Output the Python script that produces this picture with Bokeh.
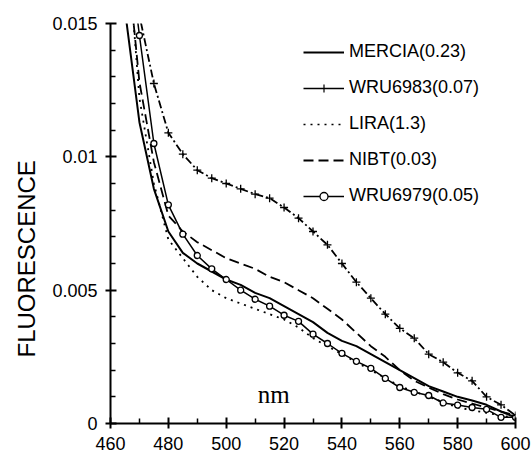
from bokeh.plotting import figure
from bokeh.models import (FixedTicker, Legend, LegendItem, Label, Range1d, Title,
                          ColumnDataSource, CDSView, IndexFilter)
from bokeh.embed import file_html
from bokeh.resources import INLINE

# ---------------- data ----------------
wavelength = [465, 470, 475, 480, 485, 490, 495, 500, 505, 510,
              515, 520, 525, 530, 535, 540, 545, 550, 555, 560,
              565, 570, 575, 580, 585, 590, 595, 600]

mercia = [0.0155, 0.0113, 0.0088, 0.0072, 0.0064, 0.0060, 0.0057, 0.0054, 0.0052, 0.0049,
          0.0047, 0.0044, 0.0041, 0.0038, 0.0034, 0.0031, 0.0029, 0.0026, 0.0023, 0.0020,
          0.0017, 0.0014, 0.0012, 0.0010, 0.00086, 0.0007, 0.00045, 0.00023]

wru6983 = [0.021, 0.0153, 0.01275, 0.0109, 0.0101, 0.0095, 0.0092, 0.0090, 0.0088, 0.0086,
           0.00845, 0.0081, 0.0077, 0.0072, 0.0067, 0.0060, 0.0053, 0.0047, 0.0041, 0.00357,
           0.0032, 0.0026, 0.0023, 0.0019, 0.0016, 0.0010, 0.0007, 0.0003]

lira = [0.0192, 0.0122, 0.0090, 0.0069, 0.0062, 0.0055, 0.0050, 0.0047, 0.0045, 0.0043,
        0.0041, 0.0039, 0.0036, 0.0032, 0.0029, 0.0026, 0.0023, 0.0020, 0.0017, 0.0014,
        0.0012, 0.0010, 0.0008, 0.0006, 0.0005, 0.0004, 0.0003, 0.0002]

nibt = [0.0183, 0.0128, 0.0098, 0.0078, 0.0072, 0.0068, 0.0065, 0.0062, 0.0060, 0.0058,
        0.0055, 0.0053, 0.0050, 0.0047, 0.0043, 0.0039, 0.0034, 0.0029, 0.0025, 0.0020,
        0.0016, 0.00135, 0.0011, 0.0009, 0.00075, 0.0006, 0.00045, 0.0003]

wru6979 = [0.019, 0.01455, 0.0105, 0.0082, 0.0071, 0.0063, 0.0058, 0.0054, 0.0050, 0.00466,
           0.0044, 0.00406, 0.00383, 0.00335, 0.0030, 0.00263, 0.00233, 0.00207, 0.00169, 0.00135,
           0.00117, 0.00105, 0.00077, 0.00069, 0.0006, 0.00053, 0.00023, 0.00023]

series_names = ["MERCIA(0.23)", "WRU6983(0.07)", "LIRA(1.3)", "NIBT(0.03)", "WRU6979(0.05)"]

x_ticks = [460, 480, 500, 520, 540, 560, 580, 600]
x_tick_labels = ["460", "480", "500", "520", "540", "560", "580", "600"]
x_minor = [470, 490, 510, 530, 550, 570, 590]
y_ticks = [0, 0.005, 0.01, 0.015]
y_tick_labels = ["0", "0.005", "0.01", "0.015"]
y_minor = [0.001, 0.002, 0.003, 0.004, 0.006, 0.007, 0.008, 0.009,
           0.011, 0.012, 0.013, 0.014]

y_label = "FLUORESCENCE"
unit_label = "nm"

FONT = "Liberation Sans"

# ---------------- figure ----------------
p = figure(width=532, height=458, output_backend="svg", toolbar_location=None,
           x_range=Range1d(460, 600), y_range=Range1d(0, 0.015),
           min_border_left=109, min_border_top=23, min_border_right=17,
           min_border_bottom=35)
p.outline_line_color = None
p.xgrid.visible = False
p.ygrid.visible = False
p.background_fill_color = "white"
p.border_fill_color = "white"

for ax, ticks, labels, minor in ((p.xaxis[0], x_ticks, x_tick_labels, x_minor),
                                 (p.yaxis[0], y_ticks, y_tick_labels, y_minor)):
    ax.ticker = FixedTicker(ticks=ticks, minor_ticks=minor)
    ax.major_label_overrides = {t: l for t, l in zip(ticks, labels)}
    ax.axis_line_width = 2
    ax.axis_line_color = "black"
    ax.major_tick_line_color = "black"
    ax.minor_tick_line_color = "black"
    ax.major_tick_line_width = 2
    ax.minor_tick_line_width = 1.5
    ax.major_tick_in = 6
    ax.major_tick_out = 5
    ax.minor_tick_in = 5
    ax.minor_tick_out = 0
    ax.major_label_text_font = FONT
    ax.major_label_text_font_size = "18px"
    ax.major_label_text_color = "black"

p.xaxis[0].major_label_standoff = 8
p.yaxis[0].major_label_standoff = 8

src = ColumnDataSource(dict(x=wavelength, mercia=mercia, wru6983=wru6983,
                            lira=lira, nibt=nibt, wru6979=wru6979))
mk83 = ColumnDataSource(dict(x=wavelength[2:], y=wru6983[2:]))
mk79 = ColumnDataSource(dict(x=wavelength[1:], y=wru6979[1:]))

p.line("x", "lira", source=src, line_color="black", line_width=1.8, line_dash="2 5")
p.line("x", "nibt", source=src, line_color="black", line_width=1.8, line_dash="10 5")
p.line("x", "mercia", source=src, line_color="black", line_width=2)
p.line("x", "wru6979", source=src, line_color="black", line_width=1.5)
p.scatter("x", "y", source=mk79, marker="circle", size=6, line_color="black",
          fill_color="white", line_width=1.3)
p.line("x", "wru6983", source=src, line_color="black", line_width=1.8, line_dash="8 3 2 3")
p.scatter("x", "y", source=mk83, marker="cross", size=8, line_color="black",
          line_width=1.3)

# legend keys: renderers on the first (off-range) sample only, carrying legend styles
one = CDSView(filter=IndexFilter([0]))
l_m = p.line("x", "mercia", source=src, view=one, line_color="black", line_width=2)
l_83 = p.line("x", "wru6983", source=src, view=one, line_color="black", line_width=1.5)
s_83 = p.scatter("x", "wru6983", source=src, view=one, marker="cross", size=7,
                 line_color="black", line_width=1.2)
l_li = p.line("x", "lira", source=src, view=one, line_color="black", line_width=1.5,
              line_dash="2 5")
l_ni = p.line("x", "nibt", source=src, view=one, line_color="black", line_width=1.8,
              line_dash="10 5")
l_79 = p.line("x", "wru6979", source=src, view=one, line_color="black", line_width=1.5)
s_79 = p.scatter("x", "wru6979", source=src, view=one, marker="circle", size=6,
                 line_color="black", fill_color="white", line_width=1.3)

items = [LegendItem(label=series_names[0], renderers=[l_m]),
         LegendItem(label=series_names[1], renderers=[l_83, s_83]),
         LegendItem(label=series_names[2], renderers=[l_li]),
         LegendItem(label=series_names[3], renderers=[l_ni]),
         LegendItem(label=series_names[4], renderers=[l_79, s_79])]
legend = Legend(items=items, location=(193, 217), glyph_width=41, glyph_height=20,
                label_height=20, label_standoff=5, spacing=15, padding=0, margin=0,
                border_line_color=None, background_fill_alpha=0,
                label_text_font=FONT, label_text_font_size="18px",
                label_text_color="black")
p.add_layout(legend, "center")

p.add_layout(Title(text=y_label, align="left", offset=66, standoff=20,
                   text_font=FONT, text_font_size="24px", text_font_style="normal",
                   text_color="black"), "left")
p.add_layout(Label(x=516.4, y=0.0011, text=unit_label, text_align="center",
                   text_baseline="middle", text_font="Liberation Serif",
                   text_font_size="25px", text_color="black"))

open("out.html", "w").write(file_html(p, INLINE))
